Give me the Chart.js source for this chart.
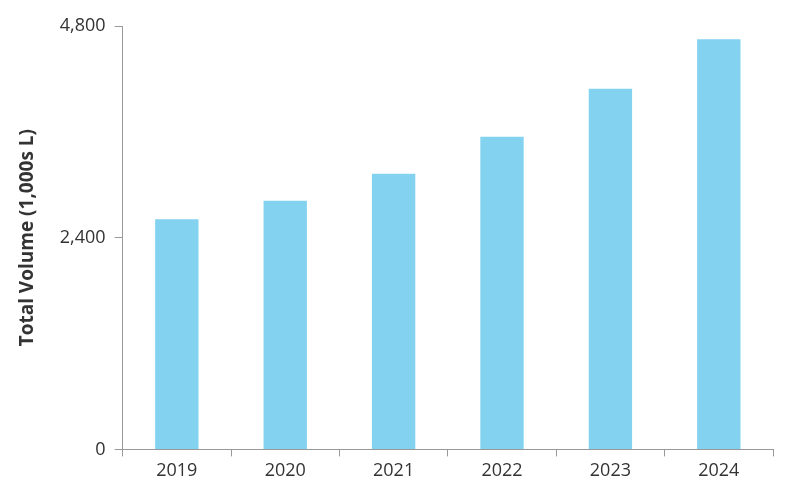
<!DOCTYPE html>
<html>
<head>
<meta charset="utf-8">
<script src="https://cdn.jsdelivr.net/npm/chart.js@4/dist/chart.umd.min.js"></script>
<style>
  html, body { margin: 0; padding: 0; background: #fff; }
</style>
</head>
<body>
<canvas id="volChart" width="793" height="498"></canvas>
<script>
var years = ["2019", "2020", "2021", "2022", "2023", "2024"];
var volumes = [2610, 2820, 3125, 3545, 4090, 4650];
var yTicks = [0, 2400, 4800];

var ctx = document.getElementById('volChart').getContext('2d');

var volChart = new Chart(ctx, {
  type: 'bar',
  data: {
    labels: years,
    datasets: [{
      label: 'Total Volume',
      data: volumes,
      backgroundColor: '#82d2f0',
      borderWidth: 0,
      barPercentage: 0.4,
      categoryPercentage: 1.0
    }]
  },
  options: {
    responsive: false,
    animation: false,
    layout: { padding: { top: 26, right: 20, bottom: 12, left: 12 } },
    plugins: {
      legend: { display: false },
      tooltip: { enabled: false }
    },
    scales: {
      x: {
        grid: { drawOnChartArea: false, drawTicks: true, tickLength: 7, color: '#999' },
        border: { color: '#999', width: 1 },
        ticks: {
          color: '#333',
          font: { family: 'Open Sans', size: 18 },
          padding: 4
        }
      },
      y: {
        min: 0,
        max: 4800,
        afterBuildTicks: function (axis) {
          axis.ticks = yTicks.map(function (v) { return { value: v }; });
        },
        grid: { drawOnChartArea: false, drawTicks: true, tickLength: 8, color: '#999' },
        border: { color: '#999', width: 1 },
        ticks: {
          color: '#333',
          font: { family: 'Open Sans', size: 18 },
          padding: 9,
          callback: function (v) { return v.toLocaleString('en-US'); }
        },
        title: {
          display: true,
          text: 'Total Volume (1,000s L)',
          color: '#333',
          font: { family: 'Open Sans', size: 19, weight: 'bold' },
          padding: { bottom: 12 }
        }
      }
    }
  }
});
</script>
</body>
</html>
